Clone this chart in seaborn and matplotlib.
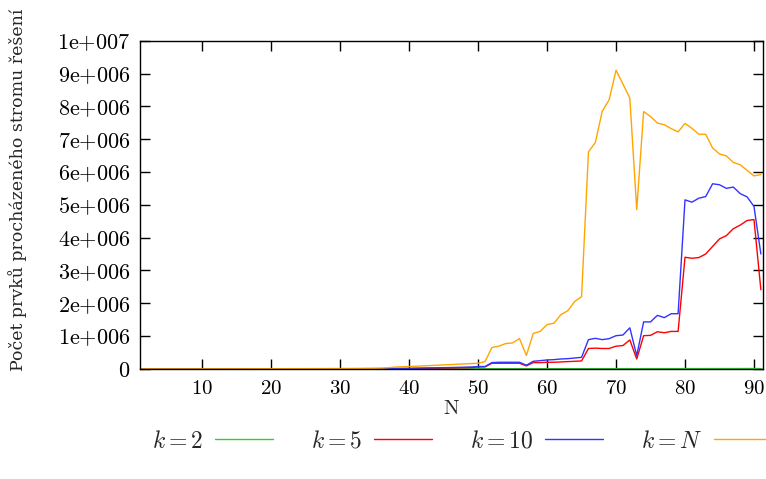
import numpy as np
import pandas as pd
import matplotlib
matplotlib.use("Agg")
import matplotlib.pyplot as plt
from matplotlib.ticker import FixedLocator, FuncFormatter
import seaborn as sns

# N values on the x axis
n_values = list(range(1, 92))

# node counts, in millions
k2 = [0.0] * 40 + [
    0.001, 0.001, 0.001, 0.001, 0.001, 0.001, 0.002, 0.002, 0.002, 0.002,
    0.003, 0.003, 0.003, 0.003, 0.003, 0.003, 0.002, 0.003, 0.003, 0.003,
    0.004, 0.004, 0.004, 0.004, 0.004, 0.005, 0.005, 0.005, 0.005, 0.005,
    0.005, 0.006, 0.003, 0.006, 0.006, 0.006, 0.006, 0.006, 0.006, 0.008,
    0.008, 0.008, 0.008, 0.009, 0.009, 0.009, 0.009, 0.009, 0.010, 0.010,
    0.008,
]
k5 = [0.0] * 30 + [
    0.001, 0.002, 0.002, 0.003, 0.003, 0.004, 0.005, 0.006, 0.007, 0.008,
    0.012, 0.015, 0.018, 0.021, 0.024, 0.027, 0.030, 0.035, 0.040, 0.055,
    0.06, 0.17, 0.17, 0.17, 0.17, 0.17, 0.09, 0.19, 0.19, 0.20,
    0.20, 0.21, 0.22, 0.23, 0.24, 0.62, 0.63, 0.62, 0.62, 0.69,
    0.71, 0.88, 0.30, 1.01, 1.02, 1.13, 1.10, 1.14, 1.14, 3.40,
    3.37, 3.39, 3.50, 3.73, 3.96, 4.06, 4.27, 4.38, 4.52, 4.55,
    2.41,
]
k10 = [0.0] * 30 + [
    0.003, 0.004, 0.005, 0.006, 0.007, 0.008, 0.010, 0.012, 0.014, 0.016,
    0.020, 0.024, 0.028, 0.032, 0.036, 0.040, 0.045, 0.050, 0.055, 0.070,
    0.07, 0.19, 0.20, 0.20, 0.20, 0.20, 0.11, 0.23, 0.25, 0.27,
    0.28, 0.30, 0.31, 0.33, 0.35, 0.89, 0.93, 0.89, 0.92, 1.01,
    1.03, 1.25, 0.40, 1.43, 1.43, 1.63, 1.56, 1.68, 1.68, 5.15,
    5.08, 5.20, 5.25, 5.64, 5.61, 5.50, 5.54, 5.34, 5.24, 4.95,
    3.50,
]
kN = [
    0.0, 0.0, 0.0, 0.0, 0.0, 0.0, 0.0, 0.0, 0.0, 0.001,
    0.001, 0.001, 0.001, 0.001, 0.002, 0.002, 0.002, 0.003, 0.003, 0.003,
    0.004, 0.004, 0.005, 0.005, 0.006, 0.006, 0.007, 0.008, 0.009, 0.010,
    0.011, 0.012, 0.013, 0.015, 0.017, 0.020, 0.035, 0.055, 0.062, 0.070,
    0.080, 0.090, 0.100, 0.110, 0.120, 0.130, 0.140, 0.150, 0.160, 0.170,
    0.22, 0.65, 0.69, 0.77, 0.79, 0.92, 0.41, 1.08, 1.14, 1.35,
    1.39, 1.65, 1.77, 2.05, 2.20, 6.61, 6.90, 7.85, 8.20, 9.10,
    8.68, 8.25, 4.85, 7.84, 7.69, 7.49, 7.44, 7.32, 7.22, 7.48,
    7.33, 7.15, 7.15, 6.73, 6.55, 6.49, 6.29, 6.22, 6.05, 5.88,
    5.92,
]

series_labels = [r"$k = 2$", r"$k = 5$", r"$k = 10$", r"$k = N$"]
series_colors = ["#33cc33", "#ff0000", "#3333ff", "#ffa500"]
y_ticks = [0, 1e6, 2e6, 3e6, 4e6, 5e6, 6e6, 7e6, 8e6, 9e6, 1e7]
y_tick_labels = ["0", "1e+006", "2e+006", "3e+006", "4e+006", "5e+006",
                 "6e+006", "7e+006", "8e+006", "9e+006", "1e+007"]
x_ticks = [10, 20, 30, 40, 50, 60, 70, 80, 90]

frames = []
for label, vals in zip(series_labels, [k2, k5, k10, kN]):
    frames.append(pd.DataFrame({"N": n_values,
                                "count": np.array(vals) * 1e6,
                                "k": label}))
df = pd.concat(frames, ignore_index=True)

sns.set_theme(style="ticks")
plt.rcParams["font.family"] = ["DejaVu Serif"]
plt.rcParams["mathtext.fontset"] = "cm"

fig = plt.figure(figsize=(7.66, 4.79), dpi=100)
ax = fig.add_axes([0.183, 0.23, 0.813, 0.685])

sns.lineplot(data=df, x="N", y="count", hue="k", hue_order=series_labels,
             palette=series_colors, linewidth=1.0, ax=ax, legend=False)

ax.set_xlim(1, 91.3)
ax.set_ylim(0, 1e7)
ax.xaxis.set_major_locator(FixedLocator(x_ticks))
ax.yaxis.set_major_locator(FixedLocator(y_ticks))
ax.xaxis.set_major_formatter(FuncFormatter(lambda v, p: r"$\mathrm{%d}$" % v))
lab_map = dict(zip(y_ticks, y_tick_labels))
ax.yaxis.set_major_formatter(FuncFormatter(
    lambda v, p: r"$\mathrm{%s}$" % lab_map.get(v, "").replace("+", "{+}")))
ax.tick_params(axis="x", labelsize=15)
ax.tick_params(axis="y", labelsize=16)
ax.tick_params(direction="in", length=7, width=1.0, top=True, right=True,
               colors="black", pad=7)
for s in ax.spines.values():
    s.set_visible(True)
    s.set_linewidth(1.0)
    s.set_color("black")

ax.set_xlabel(r"$\mathrm{N}$", fontsize=15, labelpad=1)
ax.set_ylabel("Počet prvků procházeného stromu řešení", fontsize=12.5)
ax.yaxis.set_label_coords(-0.181, 0.545)

handles = [plt.Line2D([], [], color=c, lw=1.0) for c in series_colors]
fig.legend(handles, series_labels, loc="center", bbox_to_anchor=(0.603, 0.079),
           ncol=4, frameon=False, markerfirst=False, fontsize=17,
           handlelength=2.45, columnspacing=1.6, handletextpad=0.5)

fig.savefig("out.png", dpi=100)
